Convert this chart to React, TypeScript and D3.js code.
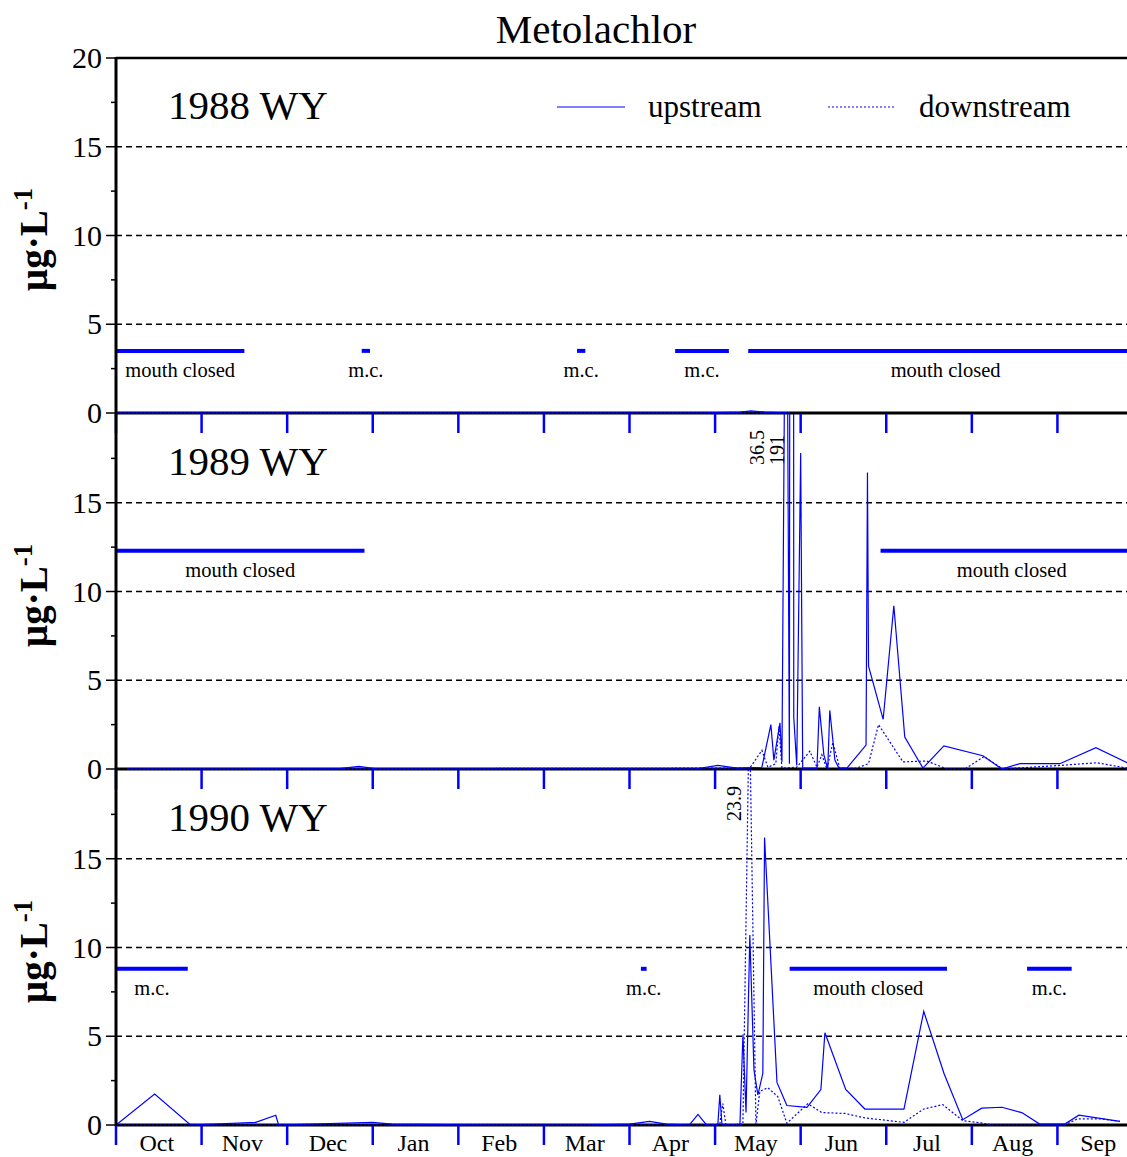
import React from 'react';
import * as d3 from 'd3';

type Pt = [string, number];
type Closed = [string, string, string];

const months = ['Oct', 'Nov', 'Dec', 'Jan', 'Feb', 'Mar', 'Apr', 'May', 'Jun', 'Jul', 'Aug', 'Sep'];
const yTicks = [0, 5, 10, 15, 20];
const minorTicks = [2.5, 7.5, 12.5, 17.5];
const waterYears = [1988, 1989, 1990];

// upstream / downstream concentrations (ug/L)
const up1988: Pt[] = [
  ['1987-10-01', 0], ['1988-04-25', 0], ['1988-05-10', 0.05], ['1988-05-14', 0.12],
  ['1988-05-19', 0.05], ['1988-05-28', 0],
];
const down1988: Pt[] = [['1987-10-01', 0], ['1988-05-28', 0]];

const up1989: Pt[] = [
  ['1988-10-05', 0], ['1988-11-15', 0], ['1988-12-20', 0.02], ['1988-12-27', 0.15], ['1989-01-03', 0],
  ['1989-02-15', 0], ['1989-03-20', 0], ['1989-04-24', 0], ['1989-05-02', 0.2], ['1989-05-09', 0.05],
  ['1989-05-17T23', 0.1], ['1989-05-21T05', 2.5], ['1989-05-22T07', 0.5], ['1989-05-24T12', 2.6],
  ['1989-05-25T05', 0.4], ['1989-05-26T19', 36.5], ['1989-05-27T22', 0.3], ['1989-05-29T00', 191],
  ['1989-05-29T12', 2.9], ['1989-05-30T14', 0.2], ['1989-06-01T00', 17.8], ['1989-06-01T17', 0.05],
  ['1989-06-06T17', 0.05], ['1989-06-07T13', 3.5], ['1989-06-09T03', 0.8], ['1989-06-10T12', 0],
  ['1989-06-11T05', 3.3], ['1989-06-13', 0.5], ['1989-06-14T10', 0.05], ['1989-06-17T05', 0.05],
  ['1989-06-23T22', 1.35], ['1989-06-24T10', 16.7], ['1989-06-24T19', 5.8], ['1989-06-29T22', 2.8],
  ['1989-07-03T18', 9.2], ['1989-07-07T17', 1.8], ['1989-07-14T07', 0.05], ['1989-07-21T21', 1.3],
  ['1989-08-05', 0.75], ['1989-08-11T21', 0], ['1989-08-18T10', 0.3], ['1989-09-01T20', 0.3],
  ['1989-09-14T12', 1.2], ['1989-09-25T10', 0.35], ['1989-09-30', 0.2],
];
const down1989: Pt[] = [
  ['1988-10-05', 0], ['1989-05-13T14', 0.05], ['1989-05-17T23', 1.05], ['1989-05-20T03', 0.1],
  ['1989-05-23', 0.3], ['1989-05-24T03', 2.4], ['1989-05-25T05', 0.05], ['1989-05-30T14', 0.1],
  ['1989-06-04T05', 1.0], ['1989-06-06T17', 0.1], ['1989-06-08T10', 0.8], ['1989-06-10T05', 0],
  ['1989-06-12T07', 1.5], ['1989-06-14T17', 0.05], ['1989-06-20T17', 0.05], ['1989-06-24T19', 0.3],
  ['1989-06-28T07', 2.5], ['1989-07-07T01', 0.4], ['1989-07-15T17', 0.45], ['1989-07-22T22', 0],
  ['1989-07-29T12', 0], ['1989-08-05T10', 0.7], ['1989-08-12T05', 0], ['1989-09-01T20', 0.2],
  ['1989-09-14T20', 0.35], ['1989-09-25T10', 0.05],
];

const up1990: Pt[] = [
  ['1989-10-01', 0], ['1989-10-15', 1.75], ['1989-10-28', 0], ['1989-11-20', 0.15], ['1989-11-27', 0.55],
  ['1989-11-28', 0], ['1990-01-01', 0.15], ['1990-01-08', 0.05], ['1990-02-15', 0], ['1990-03-15', 0],
  ['1990-04-01', 0.05], ['1990-04-08', 0.2], ['1990-04-14', 0.05], ['1990-04-22', 0], ['1990-04-25', 0.6],
  ['1990-04-28', 0], ['1990-05-02', 0], ['1990-05-02T17', 1.7], ['1990-05-03T12', 0], ['1990-05-10', 0],
  ['1990-05-11T02', 5.1], ['1990-05-12T05', 0.7], ['1990-05-13T14', 10.7], ['1990-05-15T02', 3.1],
  ['1990-05-16T12', 1.7], ['1990-05-18T07', 2.9], ['1990-05-18T22', 16.2], ['1990-05-23T10', 2.4],
  ['1990-05-27', 1.1], ['1990-06-03T05', 1.0], ['1990-06-08T02', 2.0], ['1990-06-09T12', 5.2],
  ['1990-06-16T19', 2.0], ['1990-06-23T12', 0.9], ['1990-07-07T10', 0.9], ['1990-07-14T14', 6.4],
  ['1990-07-21T22', 2.9], ['1990-07-28T17', 0.3], ['1990-08-04T14', 0.95], ['1990-08-11T22', 1.0],
  ['1990-08-19T02', 0.7], ['1990-08-25T14', 0.05], ['1990-09-03T14', 0.05], ['1990-09-08T12', 0.55],
  ['1990-09-22T22', 0.2],
];
const down1990: Pt[] = [
  ['1989-10-01', 0], ['1990-04-28', 0], ['1990-05-02T17', 0.05], ['1990-05-03T19', 1.2], ['1990-05-04T22', 0],
  ['1990-05-11T02', 0.05], ['1990-05-13T10', 23.9], ['1990-05-15T19', 0.05], ['1990-05-17T05', 1.9],
  ['1990-05-20T03', 2.1], ['1990-05-23T17', 1.6], ['1990-05-27', 0.1], ['1990-06-03T12', 1.2],
  ['1990-06-08T10', 0.7], ['1990-06-16T12', 0.65], ['1990-06-23T12', 0.4], ['1990-07-07T10', 0.15],
  ['1990-07-14T14', 0.9], ['1990-07-21T12', 1.15], ['1990-07-28T17', 0.25], ['1990-08-05', 0.1],
  ['1990-08-08T14', 0], ['1990-09-03T14', 0], ['1990-09-08T02', 0.35], ['1990-09-15T19', 0.35],
  ['1990-09-22T22', 0.2],
];

// river mouth closed periods
const mc1988: Closed[] = [
  ['1987-10-01', '1987-11-16', 'mouth closed'], ['1987-12-28', '1987-12-31', 'm.c.'],
  ['1988-03-13', '1988-03-16', 'm.c.'], ['1988-04-17', '1988-05-06', 'm.c.'],
  ['1988-05-13', '1988-09-30T24', 'mouth closed'],
];
const mc1989: Closed[] = [
  ['1988-10-01', '1988-12-29', 'mouth closed'], ['1989-06-29', '1989-09-30T24', 'mouth closed'],
];
const mc1990: Closed[] = [
  ['1989-10-01', '1989-10-27', 'm.c.'], ['1990-04-05', '1990-04-07', 'm.c.'],
  ['1990-05-28', '1990-07-23', 'mouth closed'], ['1990-08-21', '1990-09-06', 'm.c.'],
];
const mcLevel = [3.5, 12.3, 8.8];

// off-scale peaks labelled with their value
const offScale1989: Pt[] = [['1989-05-26T19', 36.5], ['1989-05-29T00', 191]];
const offScale1990: Pt[] = [['1990-05-13T10', 23.9]];

const panels = [
  { up: up1988, down: down1988, mc: mc1988, off: [] as Pt[] },
  { up: up1989, down: down1989, mc: mc1989, off: offScale1989 },
  { up: up1990, down: down1990, mc: mc1990, off: offScale1990 },
];

// position in "months since Oct 1" of the water year
const mpos = (s: string, wy: number) => {
  const [d, t] = s.split('T');
  const [yy, mm, dd] = d.split('-').map(Number);
  const h = t ? Number(t) : 0;
  const idx = (yy - (wy - 1)) * 12 + (mm - 10);
  const dim = new Date(yy, mm, 0).getDate();
  return idx + (dd - 1 + h / 24) / dim;
};

const FONT = '"Liberation Serif", "Times New Roman", serif';
const BLUE = '#0000ff';

const App = () => {
  const width = 1127;
  const height = 1157;
  const left = 116;
  const right = 1143;
  const panelH = 355;
  const firstBase = 413;
  const step = 356;

  const x = d3.scaleLinear().domain([0, 12]).range([left, right]);

  return (
    <svg width={width} height={height} style={{ position: 'absolute', left: 0, top: 0, background: '#fff' }}
      fontFamily={FONT}>
      <text x={596} y={43} fontSize={41} textAnchor="middle">Metolachlor</text>

      {panels.map((p, i) => {
        const wy = waterYears[i];
        const base = firstBase + i * step;
        const y = d3.scaleLinear().domain([0, 20]).range([base, base - panelH]);
        const line = d3.line<Pt>().x(d => x(mpos(d[0], wy))).y(d => y(d[1]));
        const grid = i === 0 ? [5, 10, 15, 20] : [5, 10, 15];
        const monthTicks = d3.range(0, 12);
        const lastOff = p.off.length ? x(mpos(p.off[p.off.length - 1][0], wy)) : 0;
        return (
          <g key={wy}>
            <defs>
              <clipPath id={`clip-${i}`}>
                <rect x={left} y={base - panelH} width={right - left} height={panelH + 2} />
              </clipPath>
            </defs>
            {grid.map(v => (
              <line key={v} x1={left} x2={right} y1={y(v)} y2={y(v)} stroke="#000" strokeWidth={1.6}
                strokeDasharray="6,4" />
            ))}
            {i === 0 && <line x1={left} x2={right} y1={y(20)} y2={y(20)} stroke="#000" strokeWidth={2.5} />}
            <line x1={left} x2={right} y1={base} y2={base} stroke="#000" strokeWidth={3} />

            {/* month ticks under the zero line */}
            {monthTicks.map(m => (
              <line key={m} x1={x(m)} x2={x(m)} y1={base + 1} y2={base + 20} stroke={BLUE} strokeWidth={2.5} />
            ))}

            {/* y axis ticks */}
            {yTicks.filter(v => i === 0 || v < 20).map(v => (
              <g key={v}>
                <line x1={left - 10} x2={left} y1={y(v)} y2={y(v)} stroke="#000" strokeWidth={1.5} />
                <text x={102} y={y(v) + 10} fontSize={30} textAnchor="end">{v}</text>
              </g>
            ))}
            {minorTicks.map(v => (
              <line key={v} x1={left - 5} x2={left} y1={y(v)} y2={y(v)} stroke="#000" strokeWidth={1.5} />
            ))}

            <text transform={`translate(47, ${base - panelH / 2 + 4}) rotate(-90)`} fontSize={39} fontWeight="bold"
              textAnchor="middle">
              µg·L<tspan dy={-15} fontSize={27}>-1</tspan>
            </text>

            <text x={168} y={base - panelH + 61} fontSize={41}>{wy} WY</text>

            {/* mouth closed bars */}
            {p.mc.map(([a, b, label], k) => {
              const x1 = x(mpos(a, wy));
              const x2 = x(mpos(b, wy));
              return (
                <g key={k}>
                  <line x1={x1} x2={x2} y1={y(mcLevel[i])} y2={y(mcLevel[i])} stroke={BLUE} strokeWidth={4} />
                  <text x={(x1 + x2) / 2} y={y(mcLevel[i]) + 26} fontSize={20.5} textAnchor="middle">{label}</text>
                </g>
              );
            })}

            <g clipPath={`url(#clip-${i})`}>
              <path d={line(p.down) || ''} fill="none" stroke={BLUE} strokeWidth={1.2} strokeDasharray="2,2" />
              <path d={line(p.up) || ''} fill="none" stroke={BLUE} strokeWidth={1.2} />
            </g>

            {p.off.map((d, k) => {
              const lx = lastOff - 8 - 20 * (p.off.length - 1 - k);
              return (
                <text key={k} transform={`translate(${lx}, ${base - panelH + 51}) rotate(-90)`} fontSize={20}>
                  {d[1]}
                </text>
              );
            })}
          </g>
        );
      })}

      {/* left axis */}
      <line x1={left} x2={left} y1={firstBase - panelH - 1} y2={firstBase + 2 * step + 1} stroke="#000" strokeWidth={3} />

      {/* month labels */}
      {months.map((m, k) => (
        <text key={m} x={x(k + 0.5) - 2} y={1151} fontSize={24} textAnchor="middle">{m}</text>
      ))}

      {/* legend */}
      <line x1={557} x2={625} y1={107} y2={107} stroke={BLUE} strokeWidth={1.2} />
      <text x={648} y={117} fontSize={31}>upstream</text>
      <line x1={828} x2={895} y1={107} y2={107} stroke={BLUE} strokeWidth={1.2} strokeDasharray="2,2" />
      <text x={919} y={117} fontSize={31}>downstream</text>
    </svg>
  );
};

export default App;
